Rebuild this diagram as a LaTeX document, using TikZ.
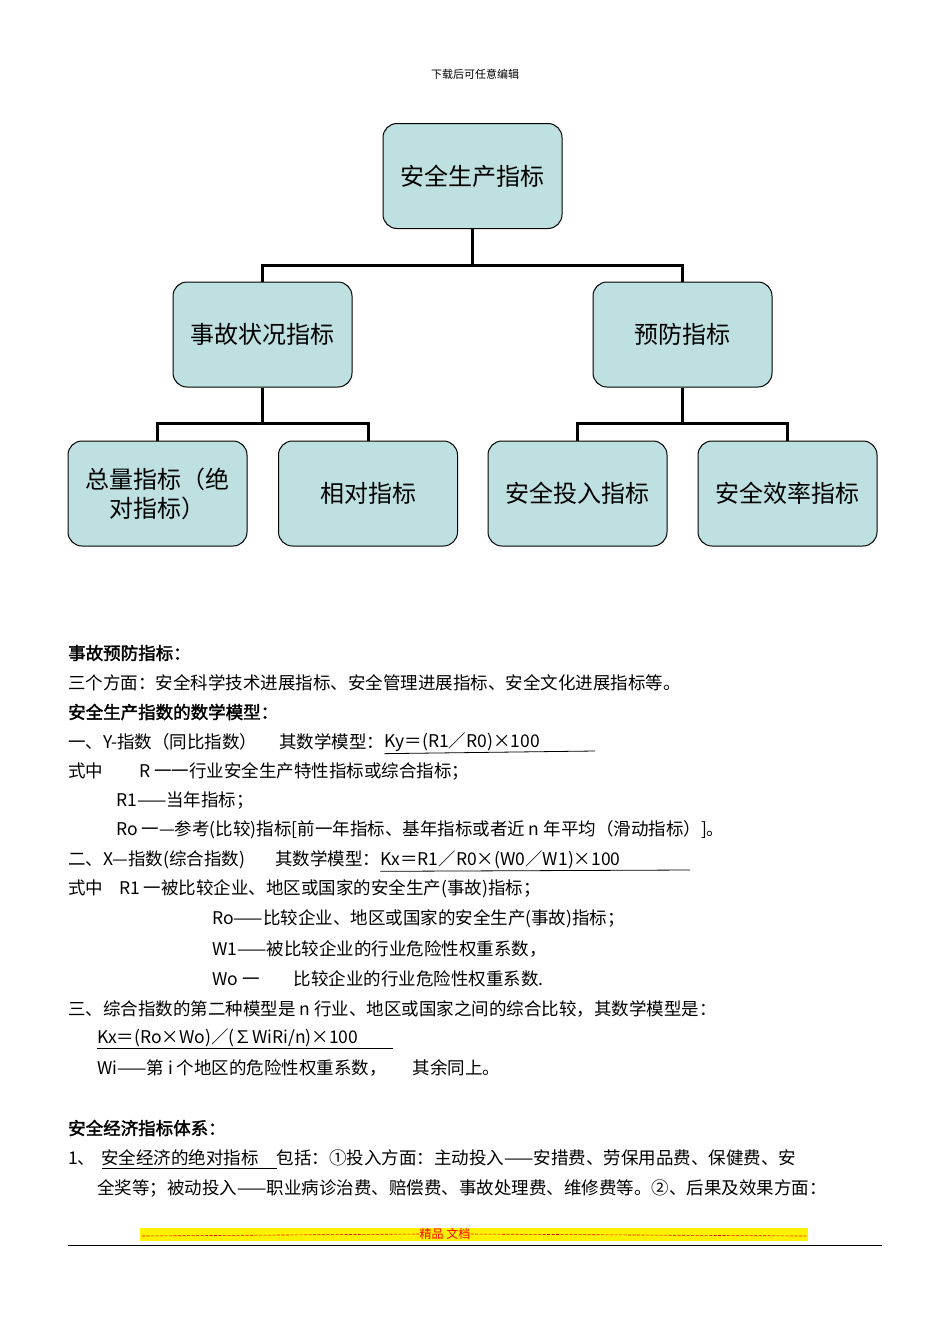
\documentclass[tikz,border=0pt]{standalone}
\usepackage{fontspec}
\setmainfont{Noto Sans CJK SC}
\newfontfamily\cjkb[FakeBold=2]{Noto Sans CJK SC}
\definecolor{boxfill}{RGB}{190,224,224}
\begin{document}
\begin{tikzpicture}[x=1pt,y=-1pt,
  box/.style={draw=black,line width=1pt,fill=boxfill,rounded corners=14pt,minimum width=179pt,minimum height=105pt,align=center,font=\fontsize{24}{29}\selectfont,inner sep=2pt},
  conn/.style={line width=3pt},
  txt/.style={anchor=west,inner sep=0pt,font=\fontsize{17.5}{20}\selectfont},
  ul/.style={line width=0.8pt}]
\useasboundingbox (0,0) rectangle (950,1344);
\node[inner sep=0,font=\fontsize{11}{13}\selectfont] (hdr) at (475,74) {下载后可任意编辑};
\node[box] (top) at (472.5,176) {安全生产指标};
\node[box] (ml) at (262.5,334.5) {事故状况指标};
\node[box] (mr) at (682.5,334.5) {预防指标};
\node[box,text width=170pt] (b1) at (157.5,493.5) {总量指标（绝\\对指标）};
\node[box] (b2) at (368,493.5) {相对指标};
\node[box] (b3) at (577.5,493.5) {安全投入指标};
\node[box] (b4) at (787.5,493.5) {安全效率指标};
\draw[conn] (top.south) -- ++(0,36) -| (ml.north);
\draw[conn] (top.south) -- ++(0,36) -| (mr.north);
\draw[conn] (ml.south) -- ++(0,36) -| (b1.north);
\draw[conn] (ml.south) -- ++(0,36) -| (b2.north);
\draw[conn] (mr.south) -- ++(0,36) -| (b3.north);
\draw[conn] (mr.south) -- ++(0,36) -| (b4.north);

\node[txt,font=\fontsize{17.5}{20}\cjkb] (t1) at (68,653) {事故预防指标：};
\node[txt] (t2) at (68,683) {三个方面：安全科学技术进展指标、安全管理进展指标、安全文化进展指标等。};
\node[txt,font=\fontsize{17.5}{20}\cjkb] (t3) at (68,712) {安全生产指数的数学模型：};
\node[txt] (t4) at (68,742) {一、Y-指数（同比指数）\hspace{22pt}其数学模型：};
\node[txt] (t4b) at (t4.east) {Ky＝(R1／R0)×100};
\draw[ul] (t4b.south west) ++(0,2) -- (595,751);
\node[txt] (t5) at (68,771) {式中\hspace{36pt}R 一一行业安全生产特性指标或综合指标；};
\node[txt] (t6) at (116,801) {R1——当年指标；};
\node[txt] (t7) at (116,830) {Ro 一—参考(比较)指标[前一年指标、基年指标或者近 n 年平均（滑动指标）]。};
\node[txt] (t8) at (68,860) {二、X—指数(综合指数)\hspace{30pt}其数学模型：};
\node[txt] (t8b) at (t8.east) {Kx＝R1／R0×(W0／W1)×100};
\draw[ul] (t8b.south west) ++(0,2) -- (690,870);
\node[txt] (t9) at (68,889) {式中\hspace{16pt}R1 一被比较企业、地区或国家的安全生产(事故)指标；};
\node[txt] (t10) at (212,919) {Ro——比较企业、地区或国家的安全生产(事故)指标；};
\node[txt] (t11) at (212,949) {W1——被比较企业的行业危险性权重系数，};
\node[txt] (t12) at (212,979) {Wo 一\hspace{34pt}比较企业的行业危险性权重系数.};
\node[txt] (t13) at (68,1009) {三、综合指数的第二种模型是 n 行业、地区或国家之间的综合比较，其数学模型是：};
\node[txt] (t14) at (97,1038) {Kx＝(Ro×Wo)／(∑WiRi/n)×100};
\draw[ul] (97,1048) -- (393,1048);
\node[txt] (t15) at (97,1068) {Wi——第 i 个地区的危险性权重系数，\hspace{26pt}其余同上。};
\node[txt,font=\fontsize{17.5}{20}\cjkb] (t16) at (68,1128) {安全经济指标体系：};
\node[txt] (t17) at (68,1158) {1、\hspace{6pt}安全经济的绝对指标\hspace{18pt}包括：①投入方面：主动投入——安措费、劳保用品费、保健费、安};
\draw[ul] (102,1168) -- (277,1168);
\node[txt] (t18) at (97,1188) {全奖等；被动投入——职业病诊治费、赔偿费、事故处理费、维修费等。②、后果及效果方面：};

\fill[yellow] (140,1228) rectangle (808,1241);
\node[inner sep=0,text=red,font=\fontsize{12}{13}\selectfont] (ft) at (445,1234) {精品 文档};
\draw[red,dash pattern=on 3pt off 1.5pt,line width=0.6pt] (142,1236) -- (ft.west);
\draw[red,dash pattern=on 3pt off 1.5pt,line width=0.6pt] (ft.east) -- (806,1236);
\draw[line width=1pt] (68,1245) -- (882,1245);
\end{tikzpicture}
\end{document}
